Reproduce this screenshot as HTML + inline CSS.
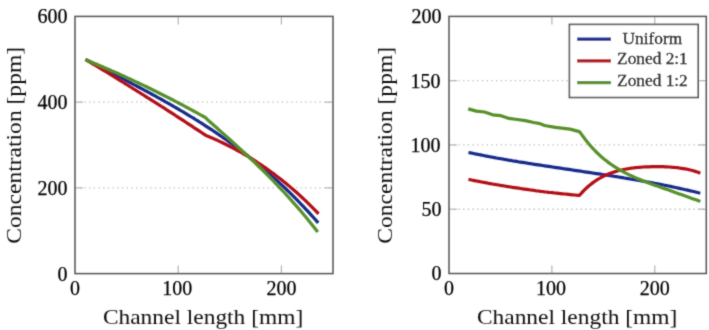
<!DOCTYPE html>
<html><head><meta charset="utf-8"><style>
html,body{margin:0;padding:0;background:#fff;width:709px;height:330px;overflow:hidden}
svg{display:block}
text{font-family:"Liberation Serif",serif;fill:#000;stroke:none}
.tk{font-size:20px;stroke:#000;stroke-width:0.25px}
.lb{font-size:21.5px;fill:#111}
.lg{font-size:16.2px;stroke:#000;stroke-width:0.3px}
</style></head><body>
<svg width="709" height="330" viewBox="0 0 709 330">
<defs><filter id="bl" x="0" y="0" width="709" height="330" filterUnits="userSpaceOnUse"><feConvolveMatrix order="3" kernelMatrix="0.03 0.09 0.03 0.09 0.52 0.09 0.03 0.09 0.03" edgeMode="none"/></filter></defs>
<rect width="709" height="330" fill="#fff"/>
<g filter="url(#bl)">
<line x1="75" y1="187.86666666666667" x2="333" y2="187.86666666666667" stroke="#bcbcbc" stroke-width="1.3" stroke-dasharray="1.3 3.4"/>
<line x1="75" y1="102.13333333333333" x2="333" y2="102.13333333333333" stroke="#bcbcbc" stroke-width="1.3" stroke-dasharray="1.3 3.4"/>
<line x1="178.2" y1="273.6" x2="178.2" y2="265.6" stroke="#b4b4b4" stroke-width="1.2"/>
<line x1="178.2" y1="16.4" x2="178.2" y2="24.4" stroke="#b4b4b4" stroke-width="1.2"/>
<line x1="281.4" y1="273.6" x2="281.4" y2="265.6" stroke="#b4b4b4" stroke-width="1.2"/>
<line x1="281.4" y1="16.4" x2="281.4" y2="24.4" stroke="#b4b4b4" stroke-width="1.2"/>
<line x1="75" y1="187.86666666666667" x2="83" y2="187.86666666666667" stroke="#b4b4b4" stroke-width="1.2"/>
<line x1="333" y1="187.86666666666667" x2="325" y2="187.86666666666667" stroke="#b4b4b4" stroke-width="1.2"/>
<line x1="75" y1="102.13333333333333" x2="83" y2="102.13333333333333" stroke="#b4b4b4" stroke-width="1.2"/>
<line x1="333" y1="102.13333333333333" x2="325" y2="102.13333333333333" stroke="#b4b4b4" stroke-width="1.2"/>
<text x="67.5" y="280.5" text-anchor="end" class="tk">0</text>
<text x="67.5" y="194.8" text-anchor="end" class="tk">200</text>
<text x="67.5" y="109.0" text-anchor="end" class="tk">400</text>
<text x="67.5" y="23.3" text-anchor="end" class="tk">600</text>
<text x="75.0" y="294.8" text-anchor="middle" class="tk">0</text>
<text x="177.2" y="294.8" text-anchor="middle" class="tk">100</text>
<text x="281.4" y="294.8" text-anchor="middle" class="tk">200</text>
<text x="203.05" y="324.2" text-anchor="middle" class="lb" transform="translate(203.05 0) scale(1.09 1) translate(-203.05 0)">Channel length [mm]</text>
<text x="0" y="0" text-anchor="middle" class="lb" transform="translate(21.2 145.3) rotate(-90) scale(1.095 1)">Concentration [ppm]</text>
<rect x="75" y="16.4" width="258.0" height="257.2" fill="none" stroke="#555555" stroke-width="1.5"/>
<line x1="449" y1="209.225" x2="706.3" y2="209.225" stroke="#bcbcbc" stroke-width="1.3" stroke-dasharray="1.3 3.4"/>
<line x1="449" y1="144.95" x2="706.3" y2="144.95" stroke="#bcbcbc" stroke-width="1.3" stroke-dasharray="1.3 3.4"/>
<line x1="449" y1="80.67500000000001" x2="706.3" y2="80.67500000000001" stroke="#bcbcbc" stroke-width="1.3" stroke-dasharray="1.3 3.4"/>
<line x1="551.9" y1="273.5" x2="551.9" y2="265.5" stroke="#b4b4b4" stroke-width="1.2"/>
<line x1="551.9" y1="16.4" x2="551.9" y2="24.4" stroke="#b4b4b4" stroke-width="1.2"/>
<line x1="654.8" y1="273.5" x2="654.8" y2="265.5" stroke="#b4b4b4" stroke-width="1.2"/>
<line x1="654.8" y1="16.4" x2="654.8" y2="24.4" stroke="#b4b4b4" stroke-width="1.2"/>
<line x1="449" y1="209.225" x2="457" y2="209.225" stroke="#b4b4b4" stroke-width="1.2"/>
<line x1="706.3" y1="209.225" x2="698.3" y2="209.225" stroke="#b4b4b4" stroke-width="1.2"/>
<line x1="449" y1="144.95" x2="457" y2="144.95" stroke="#b4b4b4" stroke-width="1.2"/>
<line x1="706.3" y1="144.95" x2="698.3" y2="144.95" stroke="#b4b4b4" stroke-width="1.2"/>
<line x1="449" y1="80.67500000000001" x2="457" y2="80.67500000000001" stroke="#b4b4b4" stroke-width="1.2"/>
<line x1="706.3" y1="80.67500000000001" x2="698.3" y2="80.67500000000001" stroke="#b4b4b4" stroke-width="1.2"/>
<text x="441.5" y="280.4" text-anchor="end" class="tk">0</text>
<text x="441.5" y="216.1" text-anchor="end" class="tk">50</text>
<text x="440.5" y="151.8" text-anchor="end" class="tk">100</text>
<text x="440.5" y="87.6" text-anchor="end" class="tk">150</text>
<text x="441.5" y="23.3" text-anchor="end" class="tk">200</text>
<text x="449.0" y="294.8" text-anchor="middle" class="tk">0</text>
<text x="550.9" y="294.8" text-anchor="middle" class="tk">100</text>
<text x="654.8" y="294.8" text-anchor="middle" class="tk">200</text>
<text x="577.1" y="324.2" text-anchor="middle" class="lb" transform="translate(577.1 0) scale(1.09 1) translate(-577.1 0)">Channel length [mm]</text>
<text x="0" y="0" text-anchor="middle" class="lb" transform="translate(392.4 145.3) rotate(-90) scale(1.095 1)">Concentration [ppm]</text>
<rect x="449" y="16.4" width="257.3" height="257.1" fill="none" stroke="#555555" stroke-width="1.5"/>
<polyline points="85.5,59.4 87.5,60.5 89.5,61.5 91.5,62.5 93.5,63.6 95.5,64.6 97.5,65.7 99.5,66.7 101.5,67.7 103.5,68.8 105.5,69.8 107.5,70.8 109.5,71.9 111.5,72.9 113.5,73.9 115.5,75.0 117.5,76.0 119.5,77.0 121.5,78.1 123.5,79.1 125.5,80.2 127.5,81.2 129.5,82.3 131.5,83.3 133.5,84.4 135.5,85.4 137.5,86.5 139.5,87.5 141.5,88.6 143.5,89.7 145.5,90.8 147.5,91.8 149.5,92.9 151.5,94.0 153.5,95.1 155.5,96.2 157.5,97.3 159.5,98.4 161.5,99.5 163.5,100.6 165.5,101.8 167.5,102.9 169.5,104.0 171.5,105.2 173.5,106.3 175.5,107.5 177.5,108.6 179.5,109.8 181.5,111.0 183.5,112.2 185.5,113.4 187.5,114.6 189.5,115.8 191.5,117.0 193.5,118.2 195.5,119.5 197.5,120.7 199.5,122.0 201.5,123.2 203.5,124.5 205.5,125.8 207.5,127.1 209.5,128.4 211.5,129.7 213.5,131.0 215.5,132.4 217.5,133.7 219.5,135.1 221.5,136.5 223.5,137.9 225.5,139.3 227.5,140.7 229.5,142.1 231.5,143.6 233.5,145.0 235.5,146.5 237.5,148.0 239.5,149.5 241.5,151.0 243.5,152.5 245.5,154.1 247.5,155.6 249.5,157.2 251.5,158.8 253.5,160.4 255.5,162.0 257.5,163.7 259.5,165.3 261.5,167.0 263.5,168.7 265.5,170.4 267.5,172.1 269.5,173.9 271.5,175.6 273.5,177.4 275.5,179.2 277.5,181.0 279.5,182.9 281.5,184.8 283.5,186.6 285.5,188.5 287.5,190.5 289.5,192.4 291.5,194.4 293.5,196.4 295.5,198.4 297.5,200.4 299.5,202.5 301.5,204.6 303.5,206.7 305.5,208.8 307.5,210.9 309.5,213.1 311.5,215.3 313.5,217.5 315.5,219.8 317.5,222.1 318.2,222.9" fill="none" stroke="#12298a" stroke-width="3.2" stroke-linejoin="round"/>
<polyline points="85.5,59.5 87.5,60.7 89.5,61.9 91.5,63.1 93.5,64.3 95.5,65.5 97.5,66.7 99.5,67.9 101.5,69.1 103.5,70.3 105.5,71.5 107.5,72.7 109.5,73.9 111.5,75.2 113.5,76.4 115.5,77.6 117.5,78.8 119.5,80.1 121.5,81.3 123.5,82.5 125.5,83.8 127.5,85.0 129.5,86.3 131.5,87.5 133.5,88.8 135.5,90.0 137.5,91.3 139.5,92.5 141.5,93.8 143.5,95.0 145.5,96.3 147.5,97.6 149.5,98.8 151.5,100.1 153.5,101.4 155.5,102.6 157.5,103.9 159.5,105.2 161.5,106.5 163.5,107.7 165.5,109.0 167.5,110.3 169.5,111.6 171.5,112.9 173.5,114.2 175.5,115.5 177.5,116.8 179.5,118.1 181.5,119.4 183.5,120.7 185.5,122.0 187.5,123.3 189.5,124.6 191.5,125.9 193.5,127.3 195.5,128.6 197.5,129.9 199.5,131.2 201.5,132.5 203.5,133.9 205.5,135.2 207.5,136.1 209.5,136.9 211.5,137.8 213.5,138.6 215.5,139.5 217.5,140.4 219.5,141.4 221.5,142.3 223.5,143.3 225.5,144.3 227.5,145.3 229.5,146.3 231.5,147.3 233.5,148.3 235.5,149.4 237.5,150.5 239.5,151.6 241.5,152.7 243.5,153.9 245.5,155.1 247.5,156.2 249.5,157.4 251.5,158.7 253.5,159.9 255.5,161.2 257.5,162.5 259.5,163.8 261.5,165.1 263.5,166.5 265.5,167.9 267.5,169.3 269.5,170.7 271.5,172.2 273.5,173.6 275.5,175.2 277.5,176.7 279.5,178.2 281.5,179.8 283.5,181.4 285.5,183.0 287.5,184.7 289.5,186.4 291.5,188.1 293.5,189.8 295.5,191.5 297.5,193.3 299.5,195.1 301.5,197.0 303.5,198.8 305.5,200.7 307.5,202.7 309.5,204.6 311.5,206.6 313.5,208.6 315.5,210.6 317.5,212.7 318.5,213.8" fill="none" stroke="#b21014" stroke-width="3.2" stroke-linejoin="round"/>
<polyline points="85.5,59.7 87.5,60.5 89.5,61.3 91.5,62.1 93.5,63.0 95.5,63.8 97.5,64.6 99.5,65.5 101.5,66.3 103.5,67.2 105.5,68.1 107.5,68.9 109.5,69.8 111.5,70.7 113.5,71.5 115.5,72.4 117.5,73.3 119.5,74.2 121.5,75.1 123.5,76.0 125.5,76.9 127.5,77.9 129.5,78.8 131.5,79.7 133.5,80.6 135.5,81.6 137.5,82.5 139.5,83.5 141.5,84.4 143.5,85.4 145.5,86.3 147.5,87.3 149.5,88.3 151.5,89.3 153.5,90.2 155.5,91.2 157.5,92.2 159.5,93.2 161.5,94.2 163.5,95.2 165.5,96.2 167.5,97.3 169.5,98.3 171.5,99.3 173.5,100.3 175.5,101.4 177.5,102.4 179.5,103.5 181.5,104.5 183.5,105.6 185.5,106.7 187.5,107.7 189.5,108.8 191.5,109.9 193.5,111.0 195.5,112.1 197.5,113.2 199.5,114.3 201.5,115.4 203.5,116.5 205.5,117.6 205.8,117.8 207.8,120.0 209.8,121.7 211.8,123.5 213.8,125.3 215.8,127.0 217.8,128.8 219.8,130.6 221.8,132.4 223.8,134.1 225.8,135.9 227.8,137.7 229.8,139.5 231.8,141.3 233.8,143.1 235.8,144.9 237.8,146.8 239.8,148.6 241.8,150.4 243.8,152.3 245.8,154.1 247.8,156.0 249.8,157.9 251.8,159.8 253.8,161.7 255.8,163.6 257.8,165.5 259.8,167.5 261.8,169.4 263.8,171.4 265.8,173.4 267.8,175.4 269.8,177.4 271.8,179.4 273.8,181.5 275.8,183.6 277.8,185.6 279.8,187.8 281.8,189.9 283.8,192.0 285.8,194.2 287.8,196.4 289.8,198.6 291.8,200.8 293.8,203.1 295.8,205.3 297.8,207.6 299.8,209.9 301.8,212.3 303.8,214.7 305.8,217.1 307.8,219.5 309.8,221.9 311.8,224.4 313.8,226.9 315.8,229.4 317.8,232.0" fill="none" stroke="#56902c" stroke-width="3.2" stroke-linejoin="round"/>
<polyline points="468.5,152.5 470.5,152.9 472.5,153.3 474.5,153.7 476.5,154.1 478.5,154.5 480.5,154.9 482.5,155.3 484.5,155.7 486.5,156.1 488.5,156.5 490.5,156.9 492.5,157.2 494.5,157.6 496.5,158.0 498.5,158.3 500.5,158.7 502.5,159.0 504.5,159.4 506.5,159.7 508.5,160.1 510.5,160.4 512.5,160.8 514.5,161.1 516.5,161.4 518.5,161.8 520.5,162.1 522.5,162.4 524.5,162.7 526.5,163.0 528.5,163.4 530.5,163.7 532.5,164.0 534.5,164.3 536.5,164.6 538.5,164.9 540.5,165.2 542.5,165.5 544.5,165.8 546.5,166.1 548.5,166.4 550.5,166.7 552.5,167.0 554.5,167.3 556.5,167.6 558.5,167.9 560.5,168.2 562.5,168.5 564.5,168.8 566.5,169.1 568.5,169.4 570.5,169.7 572.5,170.0 574.5,170.3 576.5,170.6 578.5,170.9 580.5,171.2 582.5,171.5 584.5,171.8 586.5,172.1 588.5,172.4 590.5,172.7 592.5,173.0 594.5,173.3 596.5,173.6 598.5,173.9 600.5,174.2 602.5,174.5 604.5,174.8 606.5,175.1 608.5,175.4 610.5,175.7 612.5,176.0 614.5,176.4 616.5,176.7 618.5,177.0 620.5,177.3 622.5,177.6 624.5,178.0 626.5,178.3 628.5,178.6 630.5,179.0 632.5,179.3 634.5,179.7 636.5,180.0 638.5,180.3 640.5,180.7 642.5,181.1 644.5,181.4 646.5,181.8 648.5,182.1 650.5,182.5 652.5,182.9 654.5,183.3 656.5,183.6 658.5,184.0 660.5,184.4 662.5,184.8 664.5,185.2 666.5,185.6 668.5,186.0 670.5,186.4 672.5,186.9 674.5,187.3 676.5,187.7 678.5,188.1 680.5,188.6 682.5,189.0 684.5,189.5 686.5,189.9 688.5,190.4 690.5,190.9 692.5,191.3 694.5,191.8 696.5,192.3 698.5,192.8 700.3,193.2" fill="none" stroke="#12298a" stroke-width="3.2" stroke-linejoin="round"/>
<polyline points="468.5,179.4 470.5,179.8 472.5,180.2 474.5,180.6 476.5,181.0 478.5,181.4 480.5,181.8 482.5,182.2 484.5,182.5 486.5,182.9 488.5,183.3 490.5,183.6 492.5,184.0 494.5,184.3 496.5,184.7 498.5,185.0 500.5,185.4 502.5,185.7 504.5,186.0 506.5,186.4 508.5,186.7 510.5,187.0 512.5,187.3 514.5,187.6 516.5,187.9 518.5,188.2 520.5,188.5 522.5,188.8 524.5,189.1 526.5,189.4 528.5,189.7 530.5,190.0 532.5,190.2 534.5,190.5 536.5,190.8 538.5,191.0 540.5,191.3 542.5,191.5 544.5,191.8 546.5,192.0 548.5,192.3 550.5,192.5 552.5,192.7 554.5,193.0 556.5,193.2 558.5,193.4 560.5,193.6 562.5,193.8 564.5,194.0 566.5,194.2 568.5,194.4 570.5,194.6 572.5,194.8 574.5,195.0 576.5,195.2 578.5,195.3 579.3,195.4 581.3,193.3 583.3,191.1 585.3,189.1 587.3,187.3 589.3,185.5 591.3,183.9 593.3,182.4 595.3,181.0 597.3,179.7 599.3,178.5 601.3,177.3 603.3,176.3 605.3,175.3 607.3,174.5 609.3,173.6 611.3,172.9 613.3,172.2 615.3,171.6 617.3,171.0 619.3,170.5 621.3,170.0 623.3,169.6 625.3,169.2 627.3,168.8 629.3,168.5 631.3,168.2 633.3,168.0 635.3,167.7 637.3,167.5 639.3,167.3 641.3,167.2 643.3,167.0 645.3,166.9 647.3,166.8 649.3,166.8 651.3,166.7 653.3,166.7 655.3,166.6 657.3,166.6 659.3,166.6 661.3,166.7 663.3,166.7 665.3,166.8 667.3,166.9 669.3,167.0 671.3,167.2 673.3,167.3 675.3,167.5 677.3,167.7 679.3,168.0 681.3,168.3 683.3,168.6 685.3,168.9 687.3,169.3 689.3,169.8 691.3,170.3 693.3,170.8 695.3,171.4 697.3,172.1 699.3,172.8 700.3,173.2" fill="none" stroke="#b21014" stroke-width="3.2" stroke-linejoin="round"/>
<polyline points="468.2,108.9 476.3,111.1 484.5,112.0 492.7,114.8 500.9,115.7 509.0,118.4 517.2,119.5 525.4,120.6 533.6,122.5 540.0,123.6 544.5,125.5 555.5,127.3 570.0,129.1 579.3,131.6 581.3,134.1 583.3,136.8 585.3,139.5 587.3,142.0 589.3,144.4 591.3,146.7 593.3,148.9 595.3,151.0 597.3,153.0 599.3,154.9 601.3,156.7 603.3,158.4 605.3,160.0 607.3,161.6 609.3,163.1 611.3,164.5 613.3,165.9 615.3,167.2 617.3,168.4 619.3,169.6 621.3,170.7 623.3,171.8 625.3,172.9 627.3,173.9 629.3,174.9 631.3,175.8 633.3,176.7 635.3,177.6 637.3,178.5 639.3,179.3 641.3,180.1 643.3,180.9 645.3,181.7 647.3,182.5 649.3,183.2 651.3,183.9 653.3,184.7 655.3,185.4 657.3,186.1 659.3,186.8 661.3,187.5 663.3,188.2 665.3,188.9 667.3,189.6 669.3,190.3 671.3,191.0 673.3,191.7 675.3,192.5 677.3,193.2 679.3,193.9 681.3,194.6 683.3,195.3 685.3,196.0 687.3,196.7 689.3,197.4 691.3,198.2 693.3,198.9 695.3,199.6 697.3,200.3 699.3,201.0 700.3,201.4" fill="none" stroke="#56902c" stroke-width="3.2" stroke-linejoin="round"/>
<rect x="569.4" y="24.4" width="128.8" height="73.1" fill="#fff" stroke="#555555" stroke-width="1.6"/>
<line x1="577.1" y1="39.1" x2="611" stroke-linecap="butt" y2="39.1" stroke="#12298a" stroke-width="3.2"/>
<text x="0" y="0" text-anchor="middle" class="lg" transform="translate(652.4 43.6) scale(1.07 1)">Uniform</text>
<line x1="577.1" y1="60.9" x2="611" stroke-linecap="butt" y2="60.9" stroke="#b21014" stroke-width="3.2"/>
<text x="0" y="0" text-anchor="middle" class="lg" transform="translate(652.4 64.4) scale(1.07 1)">Zoned 2:1</text>
<line x1="577.1" y1="82.7" x2="611" stroke-linecap="butt" y2="82.7" stroke="#56902c" stroke-width="3.2"/>
<text x="0" y="0" text-anchor="middle" class="lg" transform="translate(652.4 86.2) scale(1.07 1)">Zoned 1:2</text>
</g>
</svg>
</body></html>
